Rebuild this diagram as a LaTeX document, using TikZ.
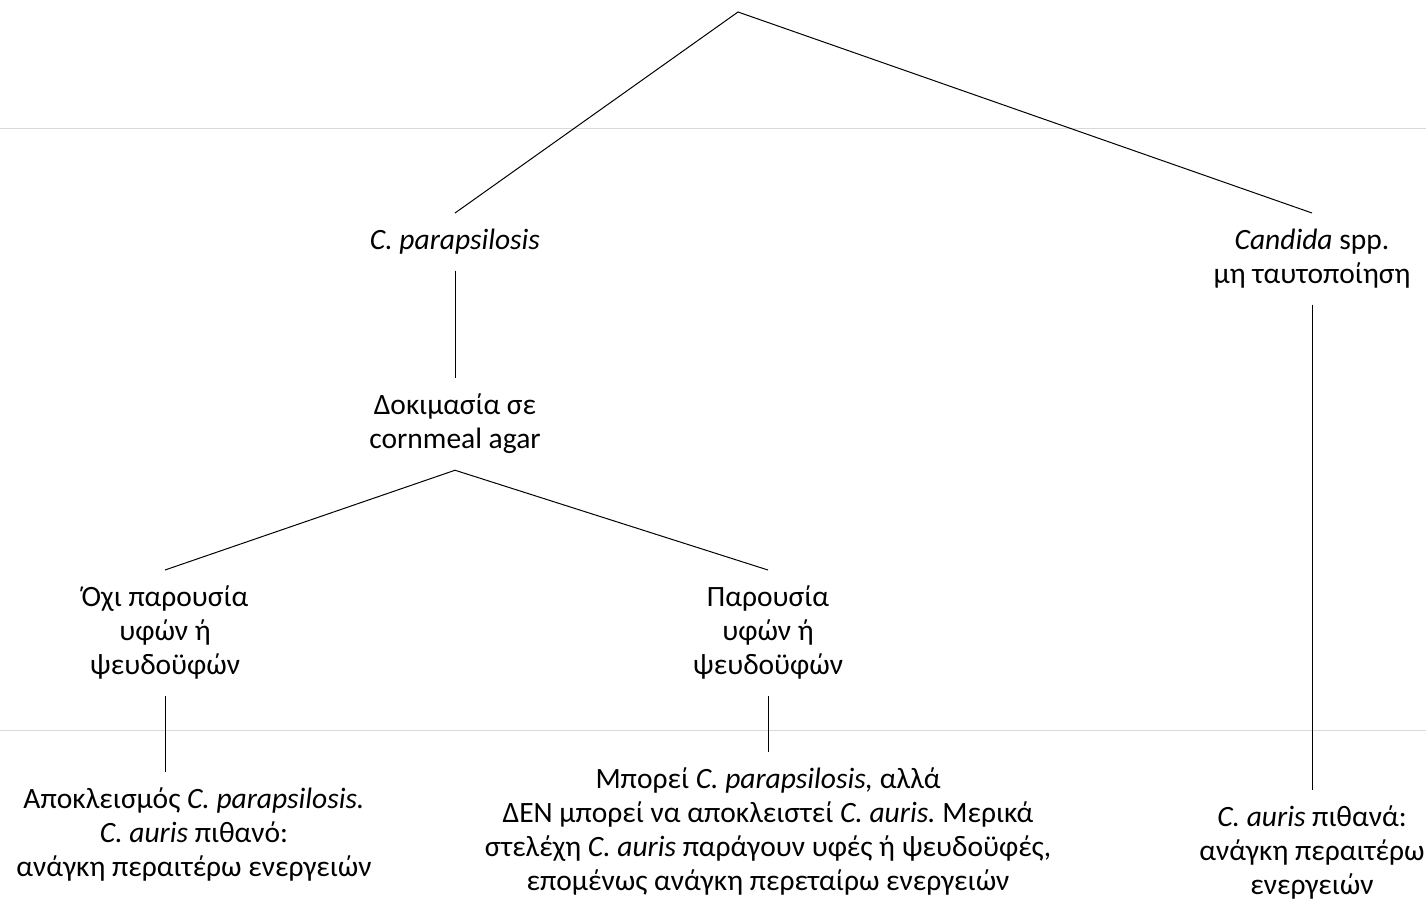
\documentclass[tikz,border=0pt]{standalone}
\usepackage{fontspec}
\setmainfont{Carlito}
\usepackage{xcolor}
\usepackage{tikz}
\usetikzlibrary{calc}
\definecolor{ink}{HTML}{000000}
\definecolor{rule}{HTML}{D9D9D9}
\tikzset{
  branch/.style={draw=ink, line width=1pt},
  band/.style={draw=rule, line width=1pt},
  lbl/.style={anchor=north, align=center, inner xsep=0pt, inner ysep=16pt,
    font=\fontsize{29.5}{34}\selectfont}
}
\frenchspacing

\begin{document}
\begin{tikzpicture}[x=1pt,y=-1pt]
  \useasboundingbox (0,0) rectangle (1426,902);
  % horizontal bands
  \draw[band] (0,128) -- (1426,128);
  \draw[band] (0,730) -- (1426,730);
  % nodes
  \coordinate (root) at (738,12);
  \node[lbl] (cpar) at (455,213) {\textit{C. parapsilosis}};
  \node[lbl] (cspp) at (1312,213) {\textit{Candida} spp.\\μη ταυτοποίηση};
  \node[lbl] (corn) at (455,378) {Δοκιμασία σε\\cornmeal agar};
  \node[lbl] (nohy) at (165,570) {Όχι παρουσία\\υφών ή\\ψευδοϋφών};
  \node[lbl] (hyph) at (768,570) {Παρουσία\\υφών ή\\ψευδοϋφών};
  \node[lbl] (excl) at (194,772) {Αποκλεισμός \textit{C. parapsilosis.}\\\textit{C. auris} πιθανό:\\ανάγκη περαιτέρω ενεργειών};
  \node[lbl] (mayb) at (768,752) {Μπορεί \textit{C. parapsilosis,} αλλά\\ΔΕΝ μπορεί να αποκλειστεί \textit{C. auris.} Μερικά\\στελέχη \textit{C. auris} παράγουν υφές ή ψευδοϋφές,\\επομένως ανάγκη περεταίρω ενεργειών};
  \node[lbl] (prob) at (1312,790) {\textit{C. auris} πιθανά:\\ανάγκη περαιτέρω\\ενεργειών};
  % connectors
  \draw[branch] (cpar.north) -- (root) -- (cspp.north);
  \draw[branch] (cpar.south) -- (corn.north);
  \draw[branch] (nohy.north) -- (corn.south) -- (hyph.north);
  \draw[branch] (nohy.south) -- (nohy.south |- excl.north);
  \draw[branch] (hyph.south) -- (hyph.south |- mayb.north);
  \draw[branch] (cspp.south) -- (prob.north);
\end{tikzpicture}
\end{document}
